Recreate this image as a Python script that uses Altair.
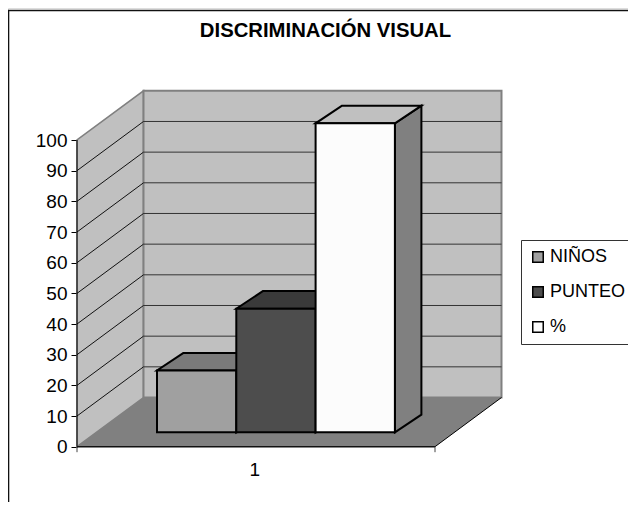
import altair as alt
import pandas as pd

series = ["NIÑOS", "PUNTEO", "%"]
values = [20, 40, 100]
front_colors = ["#a0a0a0", "#4d4d4d", "#fcfcfc"]
top_colors = ["#7a7a7a", "#3a3a3a", "#c0c0c0"]
side_colors = ["#6a6a6a", "#333333", "#808080"]
ticks = list(range(0, 101, 10))
title_text = "DISCRIMINACIÓN VISUAL"

W, H = 620, 494
# axis units: u = 0..1 across the category axis, v = value axis
PX_PER_U, PX_PER_V = 358.0, 3.067
ORIGIN_X, ORIGIN_Y = 77 - 8, 446.7 - 8
x_domain = [-ORIGIN_X / PX_PER_U, (W - ORIGIN_X) / PX_PER_U]
y_domain = [-(H - ORIGIN_Y) / PX_PER_V, ORIGIN_Y / PX_PER_V]
WALL_U, WALL_V = 66.5 / PX_PER_U, 49.2 / PX_PER_V
BAR_START_U, BAR_W_U = 80 / PX_PER_U, 79.3 / PX_PER_U
BAR_BASE_V = 14.4 / PX_PER_V
BAR_DEPTH_U, BAR_DEPTH_V = 26.5 / PX_PER_U, 17.6 / PX_PER_V
BAR_GAIN = 1.0075

y_axis = alt.Axis(values=ticks, offset=-ORIGIN_X, domain=False, grid=False, tickSize=6, tickColor="#000000",
                  tickWidth=1, labelFont="Liberation Sans", labelFontSize=19, labelColor="#000000",
                  labelPadding=4)
x_axis = alt.Axis(values=[0.495], labelExpr="'1'", offset=-(H - ORIGIN_Y), domain=False, grid=False,
                  ticks=False, labelFont="Liberation Sans", labelFontSize=19, labelColor="#000000",
                  labelPadding=14)


def X(f="x"):
    return alt.X(f"{f}:Q", scale=alt.Scale(domain=x_domain, nice=False, zero=False), title=None, axis=x_axis)


def Y(f="y"):
    return alt.Y(f"{f}:Q", scale=alt.Scale(domain=y_domain, nice=False, zero=False), title=None, axis=y_axis)


# --- walls and floor
left_wall = pd.DataFrame({"x": [0, WALL_U], "y": [0, WALL_V], "y2": [100, 100 + WALL_V]})
back_wall = pd.DataFrame({"x": [WALL_U], "x2": [1 + WALL_U], "y": [WALL_V], "y2": [100 + WALL_V]})
floor = pd.DataFrame({"y": [0, WALL_V], "x": [0, WALL_U], "x2": [1, 1 + WALL_U]})
inner = [t for t in ticks if 0 < t < 100]
back_grid = pd.DataFrame({"x": [WALL_U] * len(inner), "x2": [1 + WALL_U] * len(inner),
                          "y": [t + WALL_V for t in inner]})
side_grid = pd.DataFrame([{"t": t, "x": d * WALL_U, "y": t + d * WALL_V} for t in inner for d in (0, 1)])
right_edge = pd.DataFrame({"x": [1, 1 + WALL_U], "y": [0, WALL_V]})
front_edge = pd.DataFrame({"x": [0], "x2": [1], "y": [0]})
y_line = pd.DataFrame({"x": [0], "y": [0], "y2": [100]})
end_tick = pd.DataFrame({"x": [0, 1], "y": [0, 0], "y2": [-5.5 / PX_PER_V, -5.5 / PX_PER_V]})
top_border = pd.DataFrame({"x": [x_domain[0]], "x2": [x_domain[1]], "y": [(446.7 - 10.5) / PX_PER_V]})
left_border = pd.DataFrame({"x": [x_domain[0] + 0.6 / PX_PER_U], "y": [y_domain[0]], "y2": [(446.7 - 10.5) / PX_PER_V]})

# --- bars
fronts, tops, sides = [], [], []
for i, (s, val) in enumerate(zip(series, values)):
    x0 = BAR_START_U + i * BAR_W_U
    x1 = x0 + BAR_W_U
    y0 = BAR_BASE_V
    y1 = BAR_BASE_V + val * BAR_GAIN
    fronts.append({"series": s, "x": x0, "x2": x1, "y": y0, "y2": y1})
    for d in (0, 1):
        tops.append({"series": s, "shade": top_colors[i], "y": y1 + d * BAR_DEPTH_V,
                     "x": x0 + d * BAR_DEPTH_U, "x2": x1 + d * BAR_DEPTH_U})
        sides.append({"series": s, "shade": side_colors[i], "x": x1 + d * BAR_DEPTH_U,
                      "y": y0 + d * BAR_DEPTH_V, "y2": y1 + d * BAR_DEPTH_V})
fronts, tops, sides = map(pd.DataFrame, (fronts, tops, sides))

layers = [
    alt.Chart(left_wall).mark_area(color="#c0c0c0", stroke="#808080", strokeWidth=1.5).encode(
        x=X(), y=Y(), y2="y2:Q"),
    alt.Chart(back_wall).mark_rect(color="#c0c0c0", stroke="#808080", strokeWidth=2).encode(
        x=X(), x2="x2:Q", y=Y(), y2="y2:Q"),
    alt.Chart(back_grid).mark_rule(color="#333333", strokeWidth=1).encode(x=X(), x2="x2:Q", y=Y()),
    alt.Chart(side_grid).mark_line(color="#111111", strokeWidth=1).encode(x=X(), y=Y(), detail="t:N"),
    alt.Chart(floor).mark_area(orient="horizontal", color="#808080").encode(y=Y(), x=X(), x2="x2:Q"),
    alt.Chart(right_edge).mark_line(color="#000000", strokeWidth=1).encode(x=X(), y=Y()),
    alt.Chart(front_edge).mark_rule(color="#111111", strokeWidth=1.5).encode(x=X(), x2="x2:Q", y=Y()),
    alt.Chart(y_line).mark_rule(color="#000000", strokeWidth=1).encode(x=X(), y=Y(), y2="y2:Q"),
    alt.Chart(end_tick).mark_rule(color="#444444", strokeWidth=1).encode(x=X(), y=Y(), y2="y2:Q"),
    alt.Chart(top_border).mark_rule(color="#111111", strokeWidth=1.6).encode(x=X(), x2="x2:Q", y=Y()),
    alt.Chart(left_border).mark_rule(color="#111111", strokeWidth=1.4).encode(x=X(), y=Y(), y2="y2:Q"),
    alt.Chart(sides).mark_area(stroke="#000000", strokeWidth=2).encode(
        x=X(), y=Y(), y2="y2:Q", detail="series:N", fill=alt.Fill("shade:N", scale=None)),
    alt.Chart(tops).mark_area(orient="horizontal", stroke="#000000", strokeWidth=2).encode(
        y=Y(), x=X(), x2="x2:Q", detail="series:N", fill=alt.Fill("shade:N", scale=None)),
    alt.Chart(fronts).mark_rect(stroke="#000000", strokeWidth=2).encode(
        x=X(), x2="x2:Q", y=Y(), y2="y2:Q",
        color=alt.Color("series:N", scale=alt.Scale(domain=series, range=front_colors),
                        legend=alt.Legend(orient="none", legendX=513, legendY=232, title=None,
                                          fillColor="#ffffff", strokeColor="#333333", padding=8,
                                          symbolType="square", symbolSize=110, symbolStrokeColor="#000000",
                                          symbolStrokeWidth=1.5, symbolOpacity=1,
                                          labelFont="Liberation Sans", labelFontSize=18,
                                          labelColor="#000000", labelOffset=3, rowPadding=17,
                                          columnPadding=0, labelLimit=200))),
]

chart = (
    alt.layer(*layers)
    .resolve_scale(fill="independent")
    .properties(
        width=W, height=H, padding=0, autosize=alt.AutoSizeParams(type="none"),
        title=alt.TitleParams(title_text, font="Liberation Sans", fontSize=20.3, fontWeight="bold",
                              color="#000000", anchor="middle", dx=7.5, dy=33, offset=0),
    )
    .configure_view(stroke=None)
    .configure(background="#ffffff")
)

chart.save("out.html", embed_options={"renderer": "svg", "actions": False})
